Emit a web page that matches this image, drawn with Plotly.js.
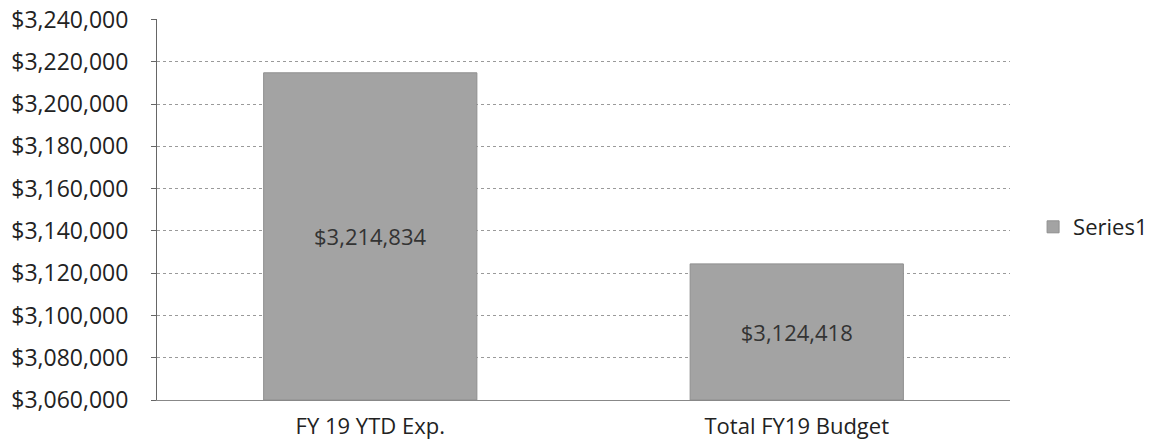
<!DOCTYPE html>
<html><head><meta charset="utf-8">
<script src="https://cdn.plot.ly/plotly-3.0.1.min.js"></script>
<style>html,body{margin:0;padding:0;background:#fff;}#chart{width:1153px;height:448px;}</style>
</head><body><div id="chart"></div>
<script>
const categories = ["FY 19 YTD Exp.", "Total FY19 Budget"];
const values = [3214834, 3124418];
const labels = ["$3,214,834", "$3,124,418"];
const axisMin = 3060000;
const axisMax = 3240000;
const tickVals = [3060000,3080000,3100000,3120000,3140000,3160000,3180000,3200000,3220000,3240000];
const tickText = ["$3,060,000","$3,080,000","$3,100,000","$3,120,000","$3,140,000","$3,160,000","$3,180,000","$3,200,000","$3,220,000","$3,240,000"];

const trace = {
  type: 'bar', x: categories, base: axisMin, y: values.map(v => v - axisMin), name: 'Series1',
  text: labels, textposition: 'inside', insidetextanchor: 'middle', constraintext: 'none',
  textfont: {family: 'Open Sans, Liberation Sans, sans-serif', size: 22, color: '#333'},
  marker: {color: '#a3a3a3', line: {color: '#8f8f8f', width: 1}},
  hoverinfo: 'none', showlegend: true
};
const layout = {
  width: 1153, height: 448,
  margin: {l: 157, r: 143, t: 19, b: 48, autoexpand: false},
  paper_bgcolor: '#fff', plot_bgcolor: '#fff',
  font: {family: 'Open Sans, Liberation Sans, sans-serif', size: 22, color: '#222'},
  bargap: 0.5,
  xaxis: {showgrid: false, showline: true, linecolor: '#888', linewidth: 1, ticks: '',
          tickfont: {size: 22}, ticklabelstandoff: 7},
  yaxis: {range: [axisMin, axisMax + 300], tickvals: tickVals, ticktext: tickText,
          showgrid: true, gridcolor: '#9a9a9a', gridwidth: 1, griddash: 'dot',
          showline: true, linecolor: '#666', linewidth: 1, ticks: 'outside', ticklen: 5, tickcolor: '#666',
          tickfont: {size: 23}, zeroline: false, ticklabelstandoff: 18},
  legend: {xref: 'container', x: 0.896, xanchor: 'left', y: 0.454, yanchor: 'middle', font: {size: 22}, itemwidth: 30},
  showlegend: true
};
Plotly.newPlot('chart', [trace], layout, {staticPlot: true, displayModeBar: false});
</script></body></html>
